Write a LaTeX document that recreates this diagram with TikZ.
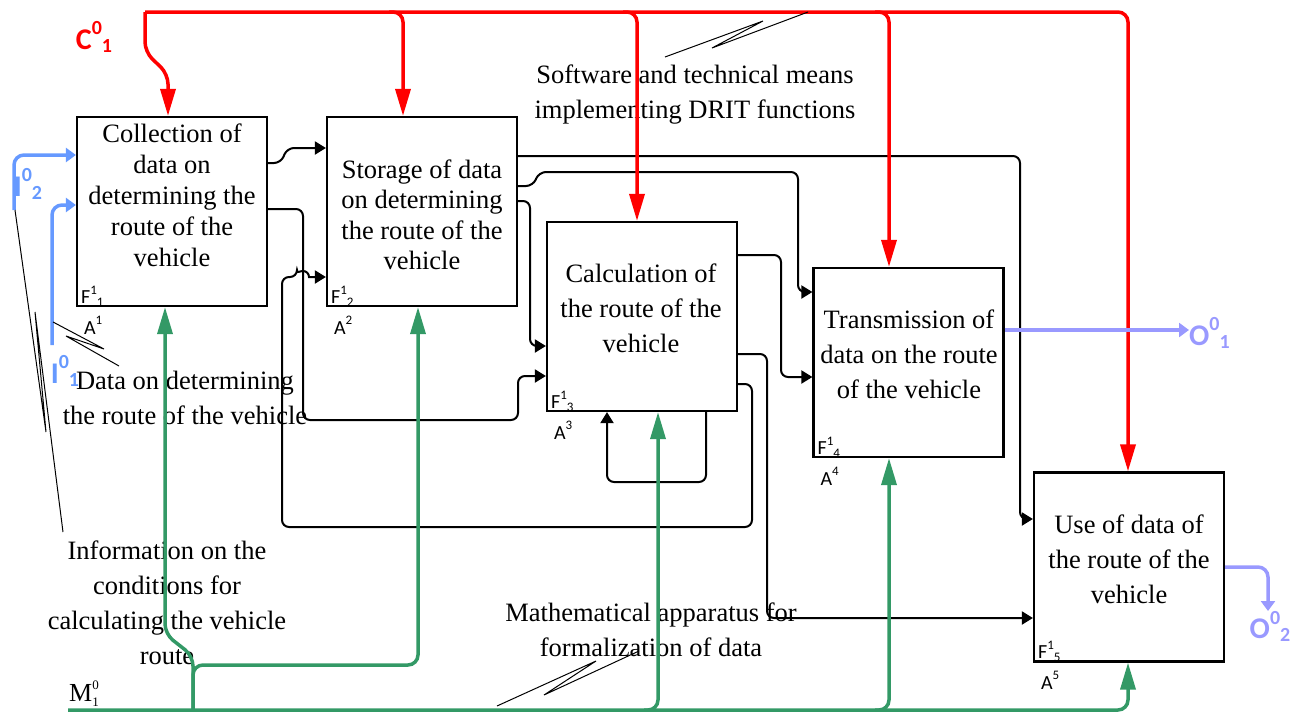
\documentclass[tikz,border=0pt]{standalone}
\usepackage{fontspec}
\setmainfont{Liberation Serif}
\newfontfamily\calibfont{Carlito}
\usepackage{tikz}
\usetikzlibrary{arrows.meta}
\definecolor{ctrlred}{RGB}{255,0,0}
\definecolor{mechgreen}{RGB}{51,153,102}
\definecolor{inblue}{RGB}{102,153,255}
\definecolor{outblue}{RGB}{153,153,255}
\tikzstyle{func} = [draw=black, line width=2.2pt, minimum width=190pt,
minimum height=189pt, inner sep=0pt]
\tikzstyle{ftext} = [align=center, inner sep=0pt,
font=\fontsize{26.5}{35}\selectfont]
\tikzstyle{flab} = [anchor=base west, inner sep=0pt,
font=\calibfont\fontsize{20}{20}\selectfont]
\tikzstyle{blabel} = [inner sep=0pt, font=\calibfont\bfseries\fontsize{30}{30}\selectfont]
\tikzstyle{flow} = [->, >={Triangle[length=11pt,width=13pt]}, line width=2pt,
rounded corners=7pt]
\tikzstyle{ctrl} = [->, >={Triangle[length=27pt,width=15pt]}, draw=ctrlred,
line width=3.5pt, rounded corners=10pt]
\tikzstyle{mech} = [ctrl, draw=mechgreen]
\tikzstyle{inp} = [->, >={Triangle[length=10pt,width=14pt]}, draw=inblue,
line width=3.5pt, rounded corners=10pt]
\tikzstyle{outp} = [inp, draw=outblue]
\tikzstyle{note} = [line width=1pt]
\newcommand{\supsub}[3]{#1\raisebox{.45em}{\fontsize{13}{13}\selectfont #2}%
\raisebox{-.15em}{\fontsize{13}{13}\selectfont #3}}
\newcommand{\bigidx}[3]{#1\raisebox{.48em}{\fontsize{20}{20}\selectfont #2}%
\raisebox{-.1em}{\fontsize{20}{20}\selectfont #3}}

\begin{document}
\begin{tikzpicture}[x=1pt, y=-1pt]
  \useasboundingbox (0,0) rectangle (1294,712);
  \node[ftext, font=\fontsize{26.5}{31}\selectfont] (t1) at (172,195)
    {Collection of\\data on\\determining the\\route of the\\vehicle};
  \node[ftext, font=\fontsize{26.5}{30.5}\selectfont] (t2) at (422,215)
    {Storage of data\\on determining\\the route of the\\vehicle};
  \node[ftext] (t3) at (641,308) {Calculation of\\the route of the\\vehicle};
  \node[ftext] (t4) at (909,354) {Transmission of\\data on the route\\of the vehicle};
  \node[ftext] (t5) at (1129,559) {Use of data of\\the route of the\\vehicle};
  \node[ftext] (sw) at (695,94.5) {Software and technical means\\implementing DRIT functions};
  \node[ftext] (ma) at (651,629.5) {Mathematical apparatus for\\formalization of data};
  \node[ftext] (dd) at (185,397.5) {Data on determining\\the route of the vehicle};
  \node[ftext] (ic) at (167,602.5)
    {Information on the\\conditions for\\calculating the vehicle\\route};
  \node[func] (a1) at (172,211.5) {};
  \node[func] (a2) at (422,211.5) {};
  \node[func] (a3) at (642,316.5) {};
  \node[func] (a4) at (908.5,362.5) {};
  \node[func] (a5) at (1129,567) {};
  \foreach \n in {1,...,5} {
    \node[flab] (f\n) at ([xshift=5pt,yshift=4pt]a\n.south west) {\supsub{F}{1}{\n}};
    \node[flab] (g\n) at ([xshift=8pt,yshift=-27pt]a\n.south west)
      {A\raisebox{.5em}{\fontsize{13}{13}\selectfont\n}};
  }
  \node[blabel, text=ctrlred] (c1) at (94,37) {\bigidx{C}{0}{1}};
  \node[blabel, text=inblue] (i2) at (28,184) {\bigidx{I}{0}{2}};
  \node[blabel, text=inblue] (i1) at (65,371) {\bigidx{I}{0}{1}};
  \node[blabel, text=outblue, anchor=west] (o1) at (1189,333) {\bigidx{O}{0}{1}};
  \node[blabel, text=outblue, anchor=north] (o2) at (1270,611) {\bigidx{O}{0}{2}};
  \node[inner sep=0pt, font=\fontsize{26}{26}\selectfont] (m1) at (84,694)
    {M\rlap{\raisebox{.46em}{\fontsize{13}{13}\selectfont 0}}%
     \raisebox{-.2em}{\fontsize{13}{13}\selectfont 1}};
  \draw[flow] (a1.east |- 0,163) -- (281,163) -- (287,148) -- (a2.west |- 0,148);
  \draw[flow] (a1.east |- 0,209) -- (303,209) -- (303,420) -- (518,420)
    -- (518,376) -- (a3.west |- 0,376);
  \draw[flow] (a3.east |- 0,384) -- (752,384) -- (752,527) -- (282,527)
    -- (282,277) -- (297,277) [sharp corners] arc[start angle=180,end angle=0,radius=6pt]
    -- (a2.west |- 0,277);
  \draw[flow] (706,0 |- a3.south) -- (706,482) -- (607,482) -- (607,0 |- a3.south);
  \draw[flow] (a2.east |- 0,156) -- (1020,156) -- (1020,519) -- (a5.west |- 0,519);
  \draw[flow] (a2.east |- 0,186) -- (533,186) -- (539,172) -- (798,172)
    -- (798,292) -- (a4.west |- 0,292);
  \draw[flow] (a2.east |- 0,201) -- (530,201) -- (530,346) -- (a3.west |- 0,346);
  \draw[flow] (a3.east |- 0,255) -- (781,255) -- (781,377) -- (a4.west |- 0,377);
  \draw[flow] (a3.east |- 0,354) -- (767,354) -- (767,618) -- (a5.west |- 0,618);
  \coordinate (c0) at (145,12);
  \draw[ctrl] (c0) -- (145,52) -- (168,74) -- (168,0 |- a1.north);
  \draw[ctrl] (c0) -- (1128,12) -- (1128,0 |- a5.north);
  \foreach \n/\x in {a2/403,a3/637,a4/889}
    \draw[ctrl] (\x-14,12) -- (\x,12) -- (\x,0 |- \n.north);
  \coordinate (m0) at (68,710);
  \draw[mech] (m0) -- (1128,710) -- (1128,0 |- a5.south);
  \draw[mech] (193,710) -- (193,656) -- (165,634) -- (165,0 |- a1.south);
  \draw[mech] (193,710) -- (193,665) -- (418,665) -- (418,0 |- a2.south);
  \foreach \n/\x in {a3/658,a4/889}
    \draw[mech] (\x-14,710) -- (\x,710) -- (\x,0 |- \n.south);
  \draw[inp] (14,210) -- (14,155) -- (a1.west |- 0,155);
  \draw[inp] (52,345) -- (52,205) -- (a1.west |- 0,205);
  \draw[outp] (a4.east |- 0,330) -- (o1.west |- 0,330);
  \draw[outp] (a5.east |- 0,567) -- (1268,567) -- (1268,0 |- o2.north);
  \draw[note] (808,12) -- (712,48) -- (763,21) -- (665,57);
  \draw[note] (497,706) -- (596,661) -- (544,695) -- (639,651);
  \draw[note] (53,322) -- (104,349) -- (66,336) -- (119,366);
  \draw[note] (15,210) -- (46,432) -- (35,312) -- (63,532);
\end{tikzpicture}
\end{document}
